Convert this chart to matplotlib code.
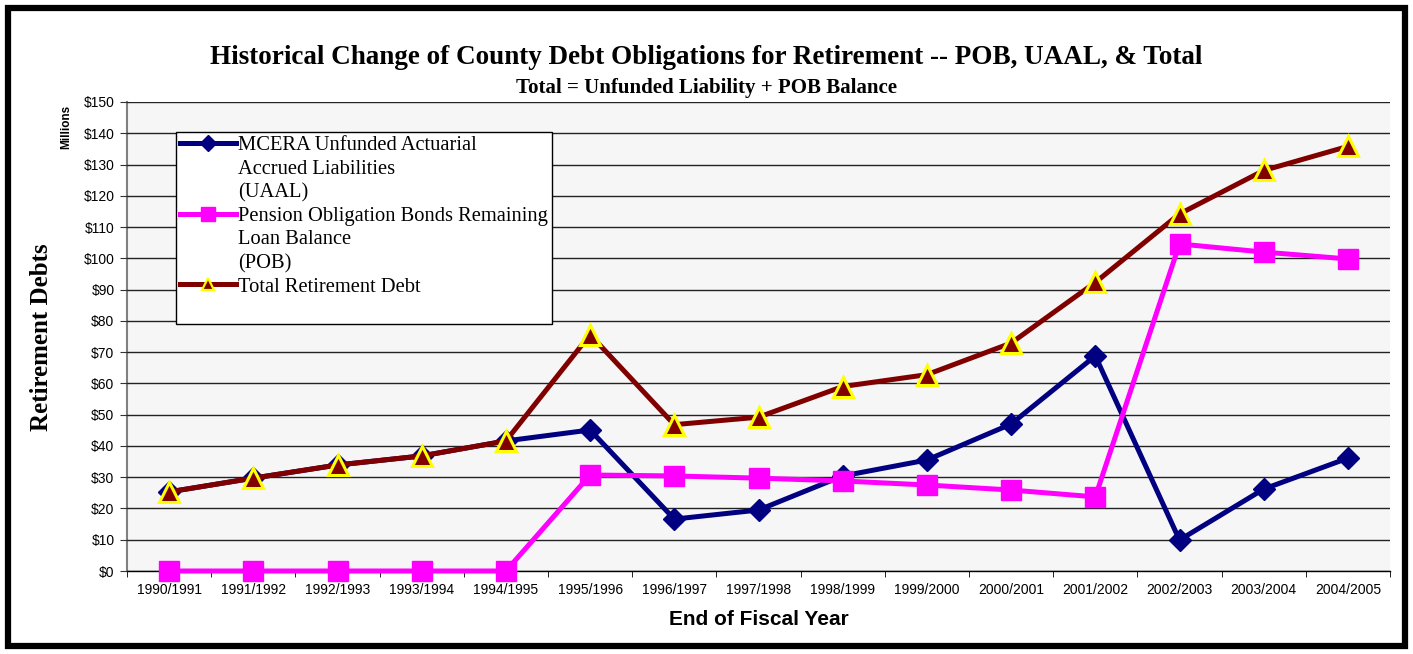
import matplotlib
matplotlib.use("Agg")
import matplotlib.pyplot as plt
from matplotlib.lines import Line2D
from matplotlib.patches import Rectangle

years = ["1990/1991", "1991/1992", "1992/1993", "1993/1994", "1994/1995",
         "1995/1996", "1996/1997", "1997/1998", "1998/1999", "1999/2000",
         "2000/2001", "2001/2002", "2002/2003", "2003/2004", "2004/2005"]
uaal = [25.3, 29.7, 33.9, 36.8, 41.6, 45.1, 16.6, 19.5, 30.4, 35.5, 47.0, 68.8, 9.9, 26.2, 36.1]
pob = [0, 0, 0, 0, 0, 30.7, 30.4, 29.7, 28.8, 27.5, 25.9, 23.7, 104.6, 102.0, 99.8]
total = [25.3, 29.7, 33.9, 36.8, 41.6, 75.6, 46.8, 49.2, 59.0, 62.8, 72.9, 92.3, 114.2, 128.1, 135.8]
yticks = list(range(0, 151, 10))
ytick_labels = ["$%d" % v for v in yticks]

SERIF = "Liberation Serif"
SANS = "Liberation Sans"

W, H = 1413, 654
fig = plt.figure(figsize=(W / 100, H / 100), dpi=100)
ax = fig.add_axes([127 / W, (H - 571) / H, (1390 - 127) / W, (571 - 102) / H])

plt.rcParams['hatch.color'] = '#cfcfcf'
plt.rcParams['hatch.linewidth'] = 0.6
ax.set_facecolor('#f6f6f6')
ax.add_patch(Rectangle((0, 0), 1, 1, transform=ax.transAxes, facecolor='none',
                       edgecolor='none', hatch='.....', zorder=0))

x = list(range(len(years)))
ax.plot(x, uaal, color='#000080', lw=3.6, marker='D', ms=11,
        markerfacecolor='#000080', markeredgecolor='#000080', zorder=3)
ax.plot(x, pob, color='#FF00FF', lw=3.6, marker='s', ms=14,
        markerfacecolor='#FF00FF', markeredgecolor='#FF00FF', zorder=4, clip_on=False)
ax.plot(x, total, color='#800000', lw=3.6, marker='^', ms=14,
        markerfacecolor='#800000', markeredgecolor='#FFFF00', markeredgewidth=2.2, zorder=5)

ax.set_xlim(-0.5, len(years) - 0.5)
ax.set_ylim(0, 150)
ax.set_yticks(yticks)
ax.set_yticklabels(ytick_labels, fontfamily=SANS, fontsize=10)
ax.set_xticks(x)
ax.set_xticklabels(years, fontfamily=SANS, fontsize=10)
ax.set_xticks([i - 0.5 for i in range(len(years) + 1)], minor=True)
ax.tick_params(axis='x', which='major', length=0, pad=9)
ax.tick_params(axis='x', which='minor', length=4, direction='out', color='black')
ax.tick_params(axis='y', length=5, direction='out', color='#333333', pad=4)
ax.yaxis.grid(True, color='#222222', lw=1.0)
ax.set_axisbelow(False)
for gl in ax.get_ygridlines():
    gl.set_zorder(1)
ax.spines['top'].set_visible(False)
ax.spines['right'].set_visible(False)
ax.spines['left'].set_color('#808080')
ax.spines['left'].set_linewidth(1.5)
ax.spines['bottom'].set_color('black')
ax.spines['bottom'].set_linewidth(1.0)

ax.set_xlabel("End of Fiscal Year", fontfamily=SANS, fontweight='bold', fontsize=15, labelpad=9)

fig.text(42 / W, 1 - 337 / H, "Retirement Debts", rotation=90, ha='center', va='center',
         fontfamily=SERIF, fontweight='bold', fontsize=18)
fig.text(66 / W, 1 - 127 / H, "Millions", rotation=90, ha='center', va='center',
         fontfamily=SANS, fontweight='bold', fontsize=8.5)
fig.text(706 / W, 1 - 57 / H,
         "Historical Change of County Debt Obligations for Retirement -- POB, UAAL, & Total",
         ha='center', va='center', fontfamily=SERIF, fontweight='bold', fontsize=19.5)
fig.text(706 / W, 1 - 88 / H, "Total = Unfunded Liability + POB Balance",
         ha='center', va='center', fontfamily=SERIF, fontweight='bold', fontsize=15)

blank = Line2D([], [], color='none')
h1 = Line2D([], [], color='#000080', lw=3.6, marker='D', ms=8,
            markerfacecolor='#000080', markeredgecolor='#000080')
h2 = Line2D([], [], color='#FF00FF', lw=3.6, marker='s', ms=10,
            markerfacecolor='#FF00FF', markeredgecolor='#FF00FF')
h3 = Line2D([], [], color='#800000', lw=3.6, marker='^', ms=9,
            markerfacecolor='#800000', markeredgecolor='#FFFF00', markeredgewidth=1.6)
handles = [h1, blank, blank, h2, blank, blank, h3, blank]
labels = ["MCERA Unfunded Actuarial", "Accrued Liabilities", "(UAAL)",
          "Pension Obligation Bonds Remaining", "Loan Balance", "(POB)",
          "Total Retirement Debt", " "]
leg = ax.legend(handles, labels, loc='upper left',
                bbox_to_anchor=((176 - 127) / 1263, (571 - 132) / 469),
                borderaxespad=0, frameon=True, fancybox=False, edgecolor='black',
                prop={'family': SERIF, 'size': 14.8}, labelspacing=0.2,
                handlelength=2.7, handletextpad=0.1, borderpad=0.2, framealpha=1)
leg.get_frame().set_linewidth(1.0)
leg.set_zorder(10)

fig.patches.append(Rectangle((8 / W, 8 / H), (W - 16) / W, (H - 16) / H,
                             transform=fig.transFigure, fill=False,
                             edgecolor='black', linewidth=4.5))

fig.savefig("out.png", dpi=100, facecolor='white')
